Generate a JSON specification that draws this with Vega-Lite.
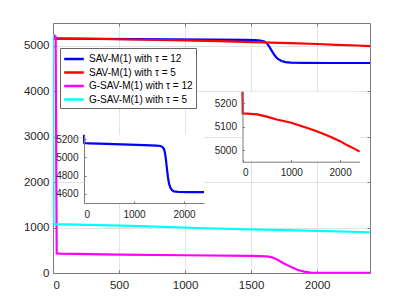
{
  "$schema": "https://vega.github.io/schema/vega-lite/v6.json",
  "width": 317,
  "height": 250,
  "autosize": {"type": "none"},
  "padding": {"left": 53, "top": 23, "right": 39, "bottom": 34},
  "config": {
    "font": "Liberation Sans",
    "view": {"stroke": "#7a7a7a", "strokeWidth": 1},
    "axis": {
      "domainColor": "#7a7a7a",
      "tickColor": "#7a7a7a",
      "labelColor": "#262626",
      "labelFont": "Liberation Sans",
      "title": null,
      "format": "d",
      "gridColor": "#e2e2e2",
      "gridWidth": 1
    }
  },
  "datasets": {
    "d": [
      {"t": 0, "v": 5250, "s": "SAV-M(1) with τ = 12"},
      {"t": 5, "v": 5158, "s": "SAV-M(1) with τ = 12"},
      {"t": 100, "v": 5155, "s": "SAV-M(1) with τ = 12"},
      {"t": 300, "v": 5151, "s": "SAV-M(1) with τ = 12"},
      {"t": 600, "v": 5146, "s": "SAV-M(1) with τ = 12"},
      {"t": 900, "v": 5141, "s": "SAV-M(1) with τ = 12"},
      {"t": 1200, "v": 5136, "s": "SAV-M(1) with τ = 12"},
      {"t": 1450, "v": 5130, "s": "SAV-M(1) with τ = 12"},
      {"t": 1530, "v": 5126, "s": "SAV-M(1) with τ = 12"},
      {"t": 1570, "v": 5115, "s": "SAV-M(1) with τ = 12"},
      {"t": 1600, "v": 5092, "s": "SAV-M(1) with τ = 12"},
      {"t": 1620, "v": 5050, "s": "SAV-M(1) with τ = 12"},
      {"t": 1640, "v": 4970, "s": "SAV-M(1) with τ = 12"},
      {"t": 1660, "v": 4870, "s": "SAV-M(1) with τ = 12"},
      {"t": 1680, "v": 4780, "s": "SAV-M(1) with τ = 12"},
      {"t": 1700, "v": 4715, "s": "SAV-M(1) with τ = 12"},
      {"t": 1730, "v": 4665, "s": "SAV-M(1) with τ = 12"},
      {"t": 1760, "v": 4640, "s": "SAV-M(1) with τ = 12"},
      {"t": 1800, "v": 4627, "s": "SAV-M(1) with τ = 12"},
      {"t": 1900, "v": 4621, "s": "SAV-M(1) with τ = 12"},
      {"t": 2100, "v": 4620, "s": "SAV-M(1) with τ = 12"},
      {"t": 2400, "v": 4620, "s": "SAV-M(1) with τ = 12"},
      {"t": 0, "v": 5250, "s": "SAV-M(1) with τ = 5"},
      {"t": 5, "v": 5157, "s": "SAV-M(1) with τ = 5"},
      {"t": 100, "v": 5156, "s": "SAV-M(1) with τ = 5"},
      {"t": 300, "v": 5153, "s": "SAV-M(1) with τ = 5"},
      {"t": 500, "v": 5143, "s": "SAV-M(1) with τ = 5"},
      {"t": 700, "v": 5131, "s": "SAV-M(1) with τ = 5"},
      {"t": 1000, "v": 5117, "s": "SAV-M(1) with τ = 5"},
      {"t": 1250, "v": 5100, "s": "SAV-M(1) with τ = 5"},
      {"t": 1450, "v": 5086, "s": "SAV-M(1) with τ = 5"},
      {"t": 1650, "v": 5070, "s": "SAV-M(1) with τ = 5"},
      {"t": 1800, "v": 5057, "s": "SAV-M(1) with τ = 5"},
      {"t": 2000, "v": 5038, "s": "SAV-M(1) with τ = 5"},
      {"t": 2150, "v": 5020, "s": "SAV-M(1) with τ = 5"},
      {"t": 2300, "v": 5005, "s": "SAV-M(1) with τ = 5"},
      {"t": 2400, "v": 4993, "s": "SAV-M(1) with τ = 5"},
      {"t": 0, "v": 5250, "s": "G-SAV-M(1) with τ = 12"},
      {"t": 20, "v": 5200, "s": "G-SAV-M(1) with τ = 12"},
      {"t": 28, "v": 430, "s": "G-SAV-M(1) with τ = 12"},
      {"t": 60, "v": 425, "s": "G-SAV-M(1) with τ = 12"},
      {"t": 500, "v": 405, "s": "G-SAV-M(1) with τ = 12"},
      {"t": 1000, "v": 390, "s": "G-SAV-M(1) with τ = 12"},
      {"t": 1500, "v": 375, "s": "G-SAV-M(1) with τ = 12"},
      {"t": 1620, "v": 366, "s": "G-SAV-M(1) with τ = 12"},
      {"t": 1660, "v": 345, "s": "G-SAV-M(1) with τ = 12"},
      {"t": 1700, "v": 290, "s": "G-SAV-M(1) with τ = 12"},
      {"t": 1745, "v": 213, "s": "G-SAV-M(1) with τ = 12"},
      {"t": 1800, "v": 135, "s": "G-SAV-M(1) with τ = 12"},
      {"t": 1850, "v": 72, "s": "G-SAV-M(1) with τ = 12"},
      {"t": 1900, "v": 30, "s": "G-SAV-M(1) with τ = 12"},
      {"t": 1950, "v": 11, "s": "G-SAV-M(1) with τ = 12"},
      {"t": 2000, "v": 6, "s": "G-SAV-M(1) with τ = 12"},
      {"t": 2400, "v": 4, "s": "G-SAV-M(1) with τ = 12"},
      {"t": 0, "v": 5250, "s": "G-SAV-M(1) with τ = 5"},
      {"t": 4, "v": 1073, "s": "G-SAV-M(1) with τ = 5"},
      {"t": 100, "v": 1068, "s": "G-SAV-M(1) with τ = 5"},
      {"t": 600, "v": 1035, "s": "G-SAV-M(1) with τ = 5"},
      {"t": 1150, "v": 985, "s": "G-SAV-M(1) with τ = 5"},
      {"t": 1500, "v": 958, "s": "G-SAV-M(1) with τ = 5"},
      {"t": 2000, "v": 925, "s": "G-SAV-M(1) with τ = 5"},
      {"t": 2400, "v": 896, "s": "G-SAV-M(1) with τ = 5"}
    ]
  },
  "layer": [
    {
      "layer": [
        {
          "data": {"name": "d"},
          "mark": {"type": "line", "strokeWidth": 2.2, "clip": true},
          "encoding": {
            "x": {
              "field": "t", "type": "quantitative",
              "scale": {"domain": [0, 2400], "nice": false, "zero": false},
              "axis": {"orient": "bottom", "values": [0, 500, 1000, 1500, 2000], "grid": true, "labelFontSize": 11.5, "tickSize": -3, "labelPadding": 9}
            },
            "y": {
              "field": "v", "type": "quantitative",
              "scale": {"domain": [0, 5500], "nice": false, "zero": false},
              "axis": {"orient": "left", "values": [0, 1000, 2000, 3000, 4000, 5000], "grid": true, "labelFontSize": 11.5, "tickSize": -3, "labelPadding": 7}
            },
            "color": {
              "field": "s", "type": "nominal",
              "sort": ["SAV-M(1) with τ = 12", "SAV-M(1) with τ = 5", "G-SAV-M(1) with τ = 12", "G-SAV-M(1) with τ = 5"],
              "scale": {
                "domain": ["SAV-M(1) with τ = 12", "SAV-M(1) with τ = 5", "G-SAV-M(1) with τ = 12", "G-SAV-M(1) with τ = 5"],
                "range": ["#0000ff", "#ff0000", "#ff00ff", "#00ffff"]
              },
              "legend": {
                "orient": "none", "legendX": 7, "legendY": 25, "title": null,
                "fillColor": "white", "strokeColor": "#666666", "padding": 3,
                "symbolType": "M-1.55,0H1.55", "symbolSize": 160, "symbolStrokeWidth": 2.5, "symbolOffset": 3,
                "labelFontSize": 10, "labelColor": "#000000", "labelFont": "Liberation Sans",
                "labelOffset": 7, "rowPadding": 0.5
              }
            },
            "order": {"field": "t", "type": "quantitative"}
          }
        },
        {
          "data": {"name": "d"},
          "mark": {"type": "line", "opacity": 0},
          "encoding": {
            "x": {
              "field": "t", "type": "quantitative",
              "scale": {"domain": [0, 2400], "nice": false, "zero": false},
              "axis": {"orient": "top", "values": [0, 500, 1000, 1500, 2000], "grid": false, "labels": false, "domain": false, "tickSize": -3}
            },
            "y": {
              "field": "v", "type": "quantitative",
              "scale": {"domain": [0, 5500], "nice": false, "zero": false},
              "axis": {"orient": "right", "values": [0, 1000, 2000, 3000, 4000, 5000], "grid": false, "labels": false, "domain": false, "tickSize": -3}
            },
            "detail": {"field": "s"}
          }
        }
      ],
      "resolve": {"axis": {"x": "independent", "y": "independent"}}
    },
    {
      "layer": [
        {
          "data": {"values": [{}]},
          "mark": {"type": "rect", "fill": "white"},
          "encoding": {
            "x": {"datum": 0, "type": "quantitative",
              "scale": {"domain": [0, 2400], "nice": false, "zero": false, "range": [31, 151]},
              "axis": {"orient": "bottom", "offset": -70, "values": [0, 1000, 2000], "grid": false, "labelFontSize": 10, "tickSize": -2, "labelPadding": 8, "zindex": 1}},
            "x2": {"datum": 2400},
            "y": {"datum": 4500, "type": "quantitative",
              "scale": {"domain": [4500, 5250], "nice": false, "zero": false, "range": [180, 111.7]},
              "axis": {"orient": "left", "offset": -31, "values": [4600, 4800, 5000, 5200], "grid": false, "labelFontSize": 10, "tickSize": -2, "labelPadding": 8, "zindex": 1}},
            "y2": {"datum": 5250}
          }
        },
        {
          "data": {"name": "d"},
          "transform": [{"filter": "datum.s == 'SAV-M(1) with τ = 12'"}],
          "mark": {"type": "line", "strokeWidth": 2.2, "color": "#0000ff"},
          "encoding": {
            "x": {
              "field": "t", "type": "quantitative",
              "scale": {"domain": [0, 2400], "nice": false, "zero": false, "range": [31, 151]},
              "axis": {"orient": "bottom", "offset": -70, "values": [0, 1000, 2000], "grid": false, "labelFontSize": 10, "tickSize": -2, "labelPadding": 8, "zindex": 1}
            },
            "y": {
              "field": "v", "type": "quantitative",
              "scale": {"domain": [4500, 5250], "nice": false, "zero": false, "range": [180, 111.7]},
              "axis": {"orient": "left", "offset": -31, "values": [4600, 4800, 5000, 5200], "grid": false, "labelFontSize": 10, "tickSize": -2, "labelPadding": 8, "zindex": 1}
            },
            "order": {"field": "t", "type": "quantitative"}
          }
        }
      ]
    },
    {
      "layer": [
        {
          "data": {"values": [{}]},
          "mark": {"type": "rect", "fill": "white"},
          "encoding": {
            "x": {"datum": 0, "type": "quantitative",
              "scale": {"domain": [0, 2400], "nice": false, "zero": false, "range": [189.5, 306.6]},
              "axis": {"orient": "bottom", "offset": -111.3, "values": [0, 1000, 2000], "grid": false, "labelFontSize": 10, "tickSize": -2, "labelPadding": 8, "zindex": 1}},
            "x2": {"datum": 2400},
            "y": {"datum": 4950, "type": "quantitative",
              "scale": {"domain": [4950, 5250], "nice": false, "zero": false, "range": [138.7, 68.7]},
              "axis": {"orient": "left", "offset": -189.5, "values": [5000, 5100, 5200], "grid": false, "labelFontSize": 10, "tickSize": -2, "labelPadding": 8, "zindex": 1}},
            "y2": {"datum": 5250}
          }
        },
        {
          "data": {"name": "d"},
          "transform": [{"filter": "datum.s == 'SAV-M(1) with τ = 5'"}],
          "mark": {"type": "line", "strokeWidth": 2.2, "color": "#ff0000"},
          "encoding": {
            "x": {
              "field": "t", "type": "quantitative",
              "scale": {"domain": [0, 2400], "nice": false, "zero": false, "range": [189.5, 306.6]},
              "axis": {"orient": "bottom", "offset": -111.3, "values": [0, 1000, 2000], "grid": false, "labelFontSize": 10, "tickSize": -2, "labelPadding": 8, "zindex": 1}
            },
            "y": {
              "field": "v", "type": "quantitative",
              "scale": {"domain": [4950, 5250], "nice": false, "zero": false, "range": [138.7, 68.7]},
              "axis": {"orient": "left", "offset": -189.5, "values": [5000, 5100, 5200], "grid": false, "labelFontSize": 10, "tickSize": -2, "labelPadding": 8, "zindex": 1}
            },
            "order": {"field": "t", "type": "quantitative"}
          }
        }
      ]
    }
  ],
  "resolve": {"scale": {"x": "independent", "y": "independent"}}
}
